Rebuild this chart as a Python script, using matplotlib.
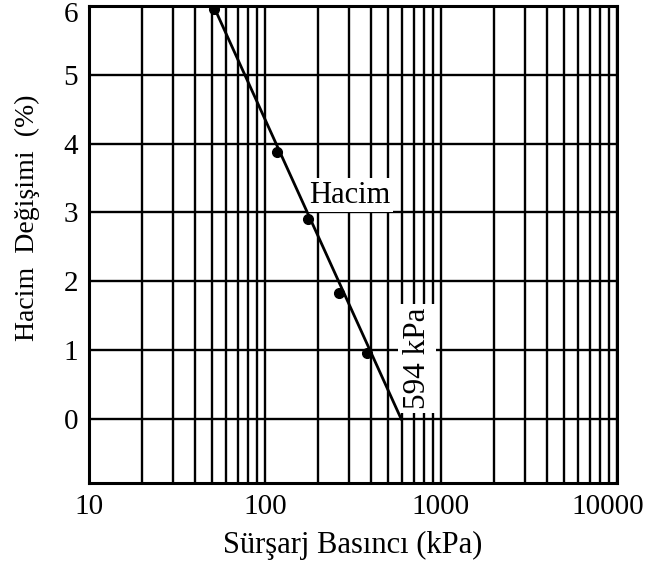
import matplotlib
matplotlib.use("Agg")
import matplotlib.pyplot as plt
import matplotlib.ticker as mticker
import matplotlib.transforms as mtransforms

plt.rcParams['font.family'] = ['Liberation Serif', 'DejaVu Serif']

# measured points: surcharge pressure (kPa) vs volume change (%)
pressure = [51, 117, 175, 265, 380]
volume = [5.95, 3.88, 2.91, 1.83, 0.96]

# straight trend line, reaching zero at 594 kPa
line_p = [51, 594]
line_v = [6, 0]

x_ticks = [10, 100, 1000, 10000]
y_ticks = [0, 1, 2, 3, 4, 5, 6]

fig = plt.figure(figsize=(6.48, 5.64), dpi=100)
ax = fig.add_axes([89 / 648, 1 - 483 / 564, 528 / 648, 477 / 564])

ax.set_xscale('log')
ax.set_xlim(10, 10000)
ax.set_ylim(-0.93, 6)

ax.xaxis.set_major_locator(mticker.FixedLocator(x_ticks))
ax.xaxis.set_major_formatter(mticker.FixedFormatter([str(t) for t in x_ticks]))
ax.xaxis.set_minor_locator(mticker.LogLocator(base=10, subs=range(2, 10)))
ax.xaxis.set_minor_formatter(mticker.NullFormatter())
ax.set_yticks(y_ticks)

ax.grid(True, which='both', axis='x', color='black', linewidth=1.7)
ax.grid(True, which='major', axis='y', color='black', linewidth=1.7)
ax.tick_params(which='both', length=0, labelsize=21, pad=8)

for s in ax.spines.values():
    s.set_linewidth(2.2)

ax.plot(line_p, line_v, color='black', linewidth=2, zorder=4)
ax.plot(pressure, volume, 'o', color='black', markersize=7, zorder=5)

ax.text(304, 3.04, 'Hacim', fontsize=22, ha='center', va='bottom', zorder=3,
        bbox=dict(facecolor='white', edgecolor='none', pad=2))
ax.text(731, 0.88, '594 kPa', fontsize=22.5, rotation=90, ha='center', va='center', zorder=3,
        bbox=dict(facecolor='white', edgecolor='none', pad=3))

ax.set_xlabel('Sürşarj Basıncı (kPa)', fontsize=22, labelpad=8)
ax.set_ylabel('Hacim  Değişimi  (%)', fontsize=20)
ax.yaxis.set_label_coords(-0.093, 0.556)

# shift the outermost tick labels so they stay inside the figure
fig.canvas.draw()
last = ax.get_xticklabels()[-1]
last.set_transform(last.get_transform() + mtransforms.ScaledTranslation(-9 / 100, 0, fig.dpi_scale_trans))
top = ax.get_yticklabels()[-1]
top.set_transform(top.get_transform() + mtransforms.ScaledTranslation(0, -6 / 100, fig.dpi_scale_trans))

fig.savefig('out.png', dpi=100)
